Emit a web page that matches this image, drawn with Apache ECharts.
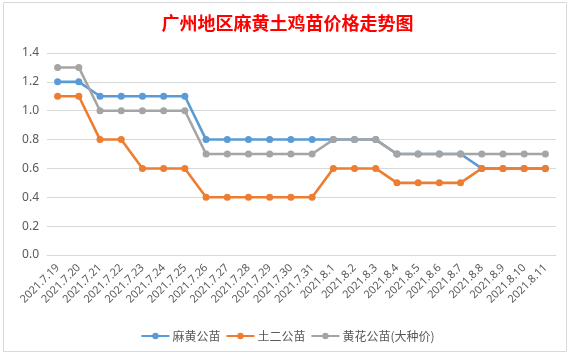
<!DOCTYPE html>
<html><head><meta charset="utf-8">
<script src="https://cdn.jsdelivr.net/npm/echarts@6/dist/echarts.min.js"></script>
<style>html,body{margin:0;padding:0;background:#fff}#c{width:575px;height:355px}</style>
</head><body><div id="c"></div>
<script>
const categories = ['2021.7.19','2021.7.20','2021.7.21','2021.7.22','2021.7.23','2021.7.24','2021.7.25','2021.7.26','2021.7.27','2021.7.28','2021.7.29','2021.7.30','2021.7.31','2021.8.1','2021.8.2','2021.8.3','2021.8.4','2021.8.5','2021.8.6','2021.8.7','2021.8.8','2021.8.9','2021.8.10','2021.8.11'];
const mahuang = [1.2,1.2,1.1,1.1,1.1,1.1,1.1,0.8,0.8,0.8,0.8,0.8,0.8,0.8,0.8,0.8,0.7,0.7,0.7,0.7,0.6,0.6,0.6,0.6];
const tuer = [1.1,1.1,0.8,0.8,0.6,0.6,0.6,0.4,0.4,0.4,0.4,0.4,0.4,0.6,0.6,0.6,0.5,0.5,0.5,0.5,0.6,0.6,0.6,0.6];
const huanghua = [1.3,1.3,1.0,1.0,1.0,1.0,1.0,0.7,0.7,0.7,0.7,0.7,0.7,0.8,0.8,0.8,0.7,0.7,0.7,0.7,0.7,0.7,0.7,0.7];
const seriesNames = ['麻黄公苗','土二公苗','黄花公苗(大种价)'];
const colors = ['#5B9BD5','#ED7D31','#A5A5A5'];

const chart = echarts.init(document.getElementById('c'));
function mk(name, data, color){
  return {name, type:'line', data, symbol:'circle', symbolSize:7,
    lineStyle:{width:2.6,color}, itemStyle:{color}};
}
chart.setOption({
  animation:false,
  textStyle:{fontFamily:'"Noto Sans CJK SC", "Noto Sans", sans-serif'},
  graphic:[{type:'rect', shape:{x:3.5,y:2.5,width:563,height:349}, style:{fill:'none',stroke:'#D9D9D9',lineWidth:1}, z:-1}],
  title:{text:'广州地区麻黄土鸡苗价格走势图', left:'center', top:9,
    textStyle:{color:'#FF0000', fontSize:18, fontWeight:'bold', fontFamily:'"Noto Sans CJK SC", sans-serif'}},
  legend:{top:325, left:'center', itemWidth:28, itemHeight:8, itemGap:5,
    textStyle:{color:'#595959', fontSize:12, padding:[0,0,0,-2]}, data:seriesNames},
  grid:{left:47, right:19, top:53, bottom:100, containLabel:false},
  xAxis:{type:'category', data:categories, boundaryGap:true,
    axisLine:{lineStyle:{color:'#D9D9D9'}}, axisTick:{show:false},
    axisLabel:{rotate:45, color:'#595959', fontSize:11, interval:0, margin:11, fontFamily:'"Noto Sans", sans-serif'}},
  yAxis:{type:'value', min:0, max:1.4, interval:0.2,
    axisLine:{show:false}, axisTick:{show:false},
    axisLabel:{color:'#595959', fontSize:12, margin:8, formatter:v=>v.toFixed(1), fontFamily:'"Noto Sans", sans-serif'},
    splitLine:{lineStyle:{color:'#D9D9D9'}}},
  series:[mk(seriesNames[0], mahuang, colors[0]), mk(seriesNames[1], tuer, colors[1]), mk(seriesNames[2], huanghua, colors[2])]
});
</script></body></html>
